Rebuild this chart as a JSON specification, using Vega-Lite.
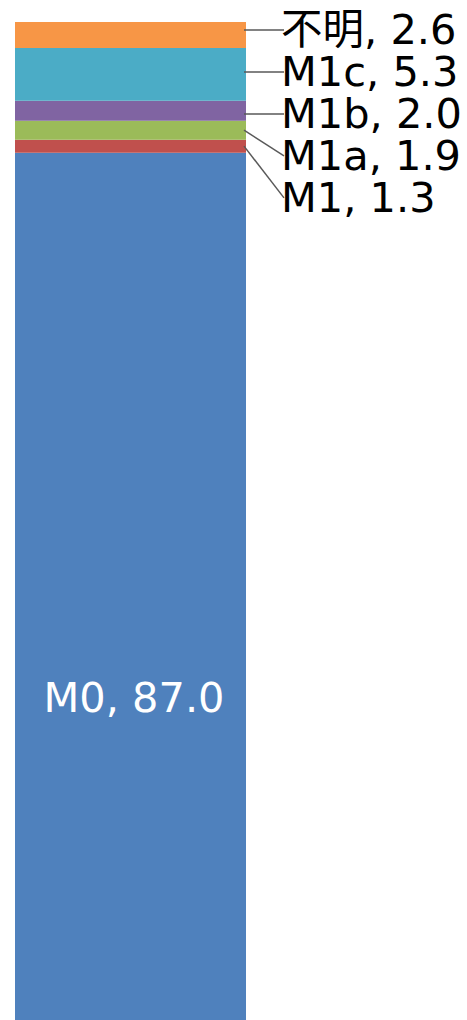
{
  "$schema": "https://vega.github.io/schema/vega-lite/v6.json",
  "width": 467,
  "height": 1020,
  "padding": 0,
  "autosize": {"type": "none"},
  "background": "white",
  "config": {"view": {"stroke": null}},
  "data": {
    "values": [
      {"category": "M0", "value": 87.0, "order": 1},
      {"category": "M1", "value": 1.3, "order": 2},
      {"category": "M1a", "value": 1.9, "order": 3},
      {"category": "M1b", "value": 2.0, "order": 4},
      {"category": "M1c", "value": 5.3, "order": 5},
      {"category": "不明", "value": 2.6, "order": 6}
    ]
  },
  "transform": [
    {"window": [{"op": "sum", "field": "value", "as": "top"}], "sort": [{"field": "order"}], "frame": [null, 0]},
    {"calculate": "datum.top - datum.value", "as": "bottom"},
    {"calculate": "datum.category + ', ' + format(datum.value, '.1f')", "as": "label"}
  ],
  "layer": [
    {
      "mark": {"type": "bar"},
      "encoding": {
        "x": {"datum": 15, "type": "quantitative", "scale": {"domain": [0, 467], "nice": false, "zero": false}, "axis": null},
        "x2": {"datum": 246},
        "y": {"field": "bottom", "type": "quantitative", "scale": {"domain": [0, 102.31], "nice": false}, "axis": null},
        "y2": {"field": "top"},
        "color": {
          "field": "category",
          "type": "nominal",
          "scale": {
            "domain": ["M0", "M1", "M1a", "M1b", "M1c", "不明"],
            "range": ["#4F81BD", "#C0504D", "#9BBB59", "#8064A2", "#4BACC6", "#F79646"]
          },
          "legend": null
        }
      }
    },
    {
      "transform": [
        {"filter": "datum.order > 1"},
        {"window": [{"op": "row_number", "as": "rn"}], "sort": [{"field": "order", "order": "descending"}]},
        {"calculate": "99.3 - 4.21 * (datum.rn - 1)", "as": "labelY"},
        {"calculate": "(datum.labelY >= datum.bottom && datum.labelY <= datum.top) ? datum.labelY : (datum.bottom + datum.top) / 2", "as": "lineY"}
      ],
      "layer": [
        {
          "mark": {"type": "rule", "color": "#595959", "strokeWidth": 1.5},
          "encoding": {
            "x": {"datum": 244, "type": "quantitative"},
            "x2": {"datum": 284},
            "y": {"field": "lineY", "type": "quantitative"},
            "y2": {"field": "labelY"}
          }
        },
        {
          "mark": {"type": "text", "align": "left", "baseline": "middle", "fontSize": 41.5, "font": "DejaVu Sans, Noto Sans CJK JP", "color": "black", "dy": 2},
          "encoding": {
            "x": {"datum": 281, "type": "quantitative"},
            "y": {"field": "labelY", "type": "quantitative"},
            "text": {"field": "label"}
          }
        }
      ]
    },
    {
      "transform": [{"filter": "datum.order == 1"}],
      "mark": {"type": "text", "align": "center", "baseline": "middle", "fontSize": 41.5, "font": "DejaVu Sans", "color": "white", "dy": 2},
      "encoding": {
        "x": {"datum": 134, "type": "quantitative"},
        "y": {"datum": 32.3, "type": "quantitative"},
        "text": {"field": "label"}
      }
    }
  ]
}
